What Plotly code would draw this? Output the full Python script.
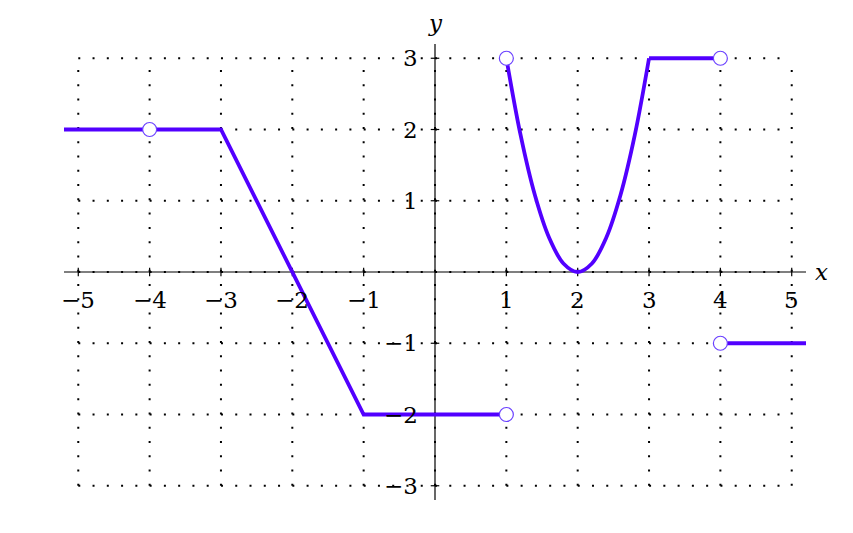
import plotly.graph_objects as go

# Data
seg1_x = [-5.2, -3, -1, 1]
seg1_y = [2, 2, -2, -2]
para_x = [1.0, 1.2, 1.4, 1.6, 1.8, 2.0, 2.2, 2.4, 2.6, 2.8, 3.0]
para_y = [3.0, 1.92, 1.08, 0.48, 0.12, 0.0, 0.12, 0.48, 1.08, 1.92, 3.0]
seg3_x = [3, 4]
seg3_y = [3, 3]
seg4_x = [4, 5.2]
seg4_y = [-1, -1]
open_x = [-4, 1, 1, 4, 4]
open_y = [2, -2, 3, 3, -1]
x_ticks = [-5, -4, -3, -2, -1, 1, 2, 3, 4, 5]
y_ticks = [-3, -2, -1, 1, 2, 3]

LINE = "#5200ff"
FONT = "DejaVu Serif"
FS = 23

fig = go.Figure()
shapes = []
# dotted grid
for xv in range(-5, 6):
    shapes.append(dict(type="line", x0=xv, x1=xv, y0=-3, y1=3, layer="below",
                       line=dict(color="black", width=2, dash="2px,12.27px")))
for yv in range(-3, 4):
    shapes.append(dict(type="line", x0=-5, x1=5, y0=yv, y1=yv, layer="below",
                       line=dict(color="black", width=2, dash="2px,12.27px")))
# axes
shapes.append(dict(type="line", x0=-5.2, x1=5.2, y0=0, y1=0, layer="below",
                   line=dict(color="black", width=1.2)))
shapes.append(dict(type="line", x0=0, x1=0, y0=-3.2, y1=3.2, layer="below",
                   line=dict(color="black", width=1.2)))
# tick marks
for xv in x_ticks:
    shapes.append(dict(type="line", x0=xv, x1=xv, y0=-0.06, y1=0.06, layer="below",
                       line=dict(color="black", width=1.2)))
for yv in y_ticks:
    shapes.append(dict(type="line", x0=-0.06, x1=0.06, y0=yv, y1=yv, layer="below",
                       line=dict(color="black", width=1.2)))

for xs, ys in [(seg1_x, seg1_y), (para_x, para_y), (seg3_x, seg3_y), (seg4_x, seg4_y)]:
    fig.add_trace(go.Scatter(x=xs, y=ys, mode="lines",
                             line=dict(color=LINE, width=3.8, shape="spline" if len(xs) > 4 else "linear"),
                             hoverinfo="skip", showlegend=False))
fig.add_trace(go.Scatter(x=open_x, y=open_y, mode="markers",
                         marker=dict(size=14, color="white", line=dict(color="#6a40ff", width=1.2)),
                         showlegend=False))

ann = []
for xv in x_ticks:
    lbl = ("\u2212" + str(-xv)) if xv < 0 else str(xv)
    ann.append(dict(x=xv, y=0, xref="x", yref="y", text=lbl, showarrow=False,
                    yanchor="middle", yshift=-28, font=dict(family=FONT, size=FS, color="black")))
for yv in y_ticks:
    lbl = ("\u2212" + str(-yv)) if yv < 0 else str(yv)
    ann.append(dict(x=0, y=yv, xref="x", yref="y", text=lbl, showarrow=False,
                    xanchor="right", xshift=-15, font=dict(family=FONT, size=FS, color="black")))
ann.append(dict(x=5.2, y=0, xref="x", yref="y", text="<i>x</i>", showarrow=False,
                xanchor="left", xshift=7, font=dict(family=FONT, size=FS, color="black")))
ann.append(dict(x=0, y=3.2, xref="x", yref="y", text="<i>y</i>", showarrow=False,
                yanchor="middle", yshift=21, font=dict(family=FONT, size=FS, color="black")))

fig.update_layout(
    width=845, height=525,
    margin=dict(l=56, r=47, t=36, b=33),
    font=dict(family=FONT, size=FS, color="black"),
    plot_bgcolor="white", paper_bgcolor="white",
    xaxis=dict(range=[-5.2, 5.2], visible=False, showgrid=False, zeroline=False),
    yaxis=dict(range=[-3.2, 3.2], visible=False, showgrid=False, zeroline=False),
    shapes=shapes, annotations=ann, showlegend=False,
)
fig.write_html("out.html")
